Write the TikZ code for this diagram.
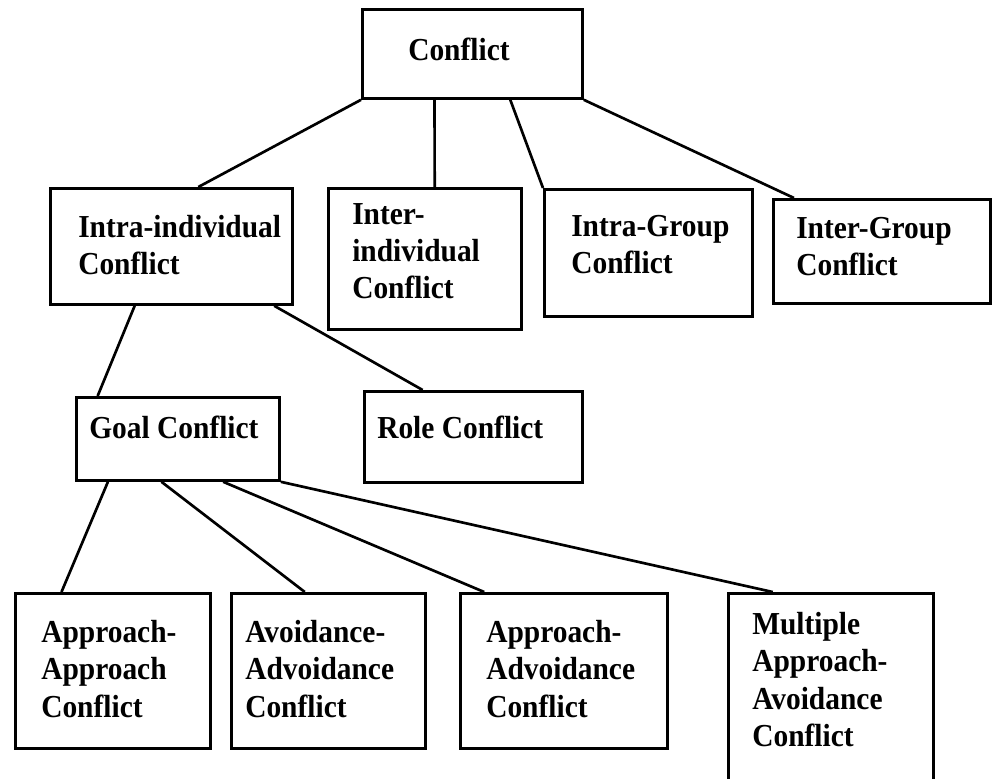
\documentclass[tikz,border=0pt]{standalone}
\usepackage{fontspec}
\setmainfont[FakeStretch=0.92]{Liberation Serif}
\usetikzlibrary{calc}
\tikzset{framebox/.style={draw=black, line width=2.1pt, inner sep=0pt, anchor=north west},
boxtext/.style={anchor=north west, align=left, inner sep=0pt, font=\fontsize{24}{28}\selectfont\bfseries},
branchline/.style={line width=2pt}}

\begin{document}
\begin{tikzpicture}[x=0.75pt, y=-0.75pt, line join=miter]
    \useasboundingbox (0,0) rectangle (992,778);
    \clip (0,0) rectangle (992,778);
    % Boxes
    \node[framebox, minimum width=165pt, minimum height=66.75pt] (conflict) at (361,8) {};
    \node[framebox, minimum width=181.5pt, minimum height=87pt] (intraind) at (49,187) {};
    \node[framebox, minimum width=144.75pt, minimum height=105.75pt] (interind) at (327,187) {};
    \node[framebox, minimum width=156pt, minimum height=95.25pt] (intragroup) at (543,188) {};
    \node[framebox, minimum width=162.75pt, minimum height=78pt] (intergroup) at (772,198) {};
    \node[framebox, minimum width=152.25pt, minimum height=62.25pt] (goal) at (75,396) {};
    \node[framebox, minimum width=163.5pt, minimum height=68.25pt] (role) at (363,390) {};
    \node[framebox, minimum width=146.25pt, minimum height=116.25pt] (appapp) at (14,592) {};
    \node[framebox, minimum width=145.5pt, minimum height=116.25pt] (avoavo) at (230,592) {};
    \node[framebox, minimum width=155.25pt, minimum height=116.25pt] (appavo) at (459,592) {};
    \node[framebox, minimum width=153.75pt, minimum height=165pt] (multiple) at (727,592) {};
    % Texts
    \node[boxtext] (conflicttxt) at ([shift={(47,30)}]conflict.north west) {Conflict};
    \node[boxtext] (intraindtxt) at ([shift={(29,28)}]intraind.north west) {Intra-individual\\Conflict};
    \node[boxtext] (interindtxt) at ([shift={(25,16)}]interind.north west) {Inter-\\individual\\Conflict};
    \node[boxtext] (intragrouptxt) at ([shift={(28,27)}]intragroup.north west) {Intra-Group\\Conflict};
    \node[boxtext] (intergrouptxt) at ([shift={(24,19)}]intergroup.north west) {Inter-Group\\Conflict};
    \node[boxtext] (goaltxt) at ([shift={(14,20)}]goal.north west) {Goal Conflict};
    \node[boxtext] (roletxt) at ([shift={(14,26)}]role.north west) {Role Conflict};
    \node[boxtext] (appapptxt) at ([shift={(27,28)}]appapp.north west) {Approach-\\Approach\\Conflict};
    \node[boxtext] (avoavotxt) at ([shift={(15,28)}]avoavo.north west) {Avoidance-\\Advoidance\\Conflict};
    \node[boxtext] (appavotxt) at ([shift={(27,28)}]appavo.north west) {Approach-\\Advoidance\\Conflict};
    \node[boxtext] (multipletxt) at ([shift={(25,20)}]multiple.north west) {Multiple\\Approach-\\Avoidance\\Conflict};
    % Branches
    \foreach \from/\fa/\to/\ta in {
        conflict/0/intraind/0.61,
        conflict/0.33/interind/0.55,
        conflict/0.67/intragroup/0,
        conflict/1/intergroup/0.1,
        intraind/0.35/goal/0.11,
        intraind/0.92/role/0.27,
        goal/0.16/appapp/0.24,
        goal/0.42/avoavo/0.38,
        goal/0.72/appavo/0.12,
        goal/1/multiple/0.22} {
        \draw[branchline] ($(\from.south west)!\fa!(\from.south east)$) -- ($(\to.north west)!\ta!(\to.north east)$);
    }
\end{tikzpicture}
\end{document}
